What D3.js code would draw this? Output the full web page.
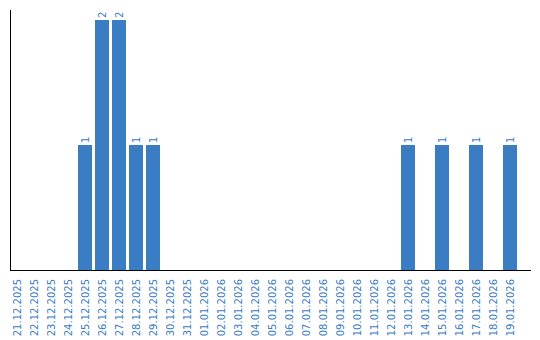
<!DOCTYPE html>
<html>
<head>
<meta charset="utf-8">
<script src="https://cdn.jsdelivr.net/npm/d3@7"></script>
<style>
	body { margin: 0; background: #fff; }
	svg { display: block; }
</style>
</head>
<body>
<div id="chart"></div>
<script>
const dates = [
	"21.12.2025", "22.12.2025", "23.12.2025", "24.12.2025", "25.12.2025",
	"26.12.2025", "27.12.2025", "28.12.2025", "29.12.2025", "30.12.2025",
	"31.12.2025", "01.01.2026", "02.01.2026", "03.01.2026", "04.01.2026",
	"05.01.2026", "06.01.2026", "07.01.2026", "08.01.2026", "09.01.2026",
	"10.01.2026", "11.01.2026", "12.01.2026", "13.01.2026", "14.01.2026",
	"15.01.2026", "16.01.2026", "17.01.2026", "18.01.2026", "19.01.2026",
];
const counts = [
	0, 0, 0, 0, 1,
	2, 2, 1, 1, 0,
	0, 0, 0, 0, 0,
	0, 0, 0, 0, 0,
	0, 0, 0, 1, 0,
	1, 0, 1, 0, 1,
];

const width = 540;
const height = 340;
const BLUE = "#3a7dc2";
const FONT = "DejaVu Sans, Verdana, sans-serif";

const data = dates.map((d, i) => ({date: d, value: counts[i]}));

const svg = d3.select("#chart")
	.append("svg")
	.attr("width", width)
	.attr("height", height);

const x = d3.scaleBand()
	.domain(dates)
	.range([8.5, 518.5])
	.paddingInner(3 / 17)
	.paddingOuter(1.5 / 17);

const y = d3.scaleLinear()
	.domain([0, 2])
	.range([270, 20]);

// Bars
svg.selectAll("rect.bar")
	.data(data.filter(d => d.value > 0))
	.join("rect")
	.attr("class", "bar")
	.attr("x", d => x(d.date))
	.attr("y", d => y(d.value))
	.attr("width", x.bandwidth())
	.attr("height", d => y(0) - y(d.value))
	.attr("fill", BLUE);

// Value labels
svg.selectAll("text.val")
	.data(data.filter(d => d.value > 0))
	.join("text")
	.attr("class", "val")
	.attr("transform", d => `translate(${x(d.date) + x.bandwidth() / 2 + 3.5},${y(d.value) - 2}) rotate(-90)`)
	.attr("text-anchor", "start")
	.attr("fill", BLUE)
	.attr("font-family", FONT)
	.attr("font-size", "10px")
	.text(d => d.value);

// X axis
const xAxis = svg.append("g")
	.attr("transform", "translate(0,270)")
	.call(d3.axisBottom(x).tickSize(0).tickPadding(0));
xAxis.select(".domain").remove();
xAxis.selectAll("text")
	.attr("transform", "translate(3.5,9) rotate(-90)")
	.attr("y", 0)
	.attr("dy", 0)
	.attr("text-anchor", "end")
	.attr("fill", BLUE)
	.attr("font-family", FONT)
	.attr("font-size", "10px");

svg.append("line")
	.attr("x1", 10).attr("x2", 531)
	.attr("y1", 270.5).attr("y2", 270.5)
	.attr("stroke", "#000");

// Y axis line
svg.append("line")
	.attr("x1", 10.5).attr("x2", 10.5)
	.attr("y1", 10).attr("y2", 270)
	.attr("stroke", "#000");
</script>
</body>
</html>
